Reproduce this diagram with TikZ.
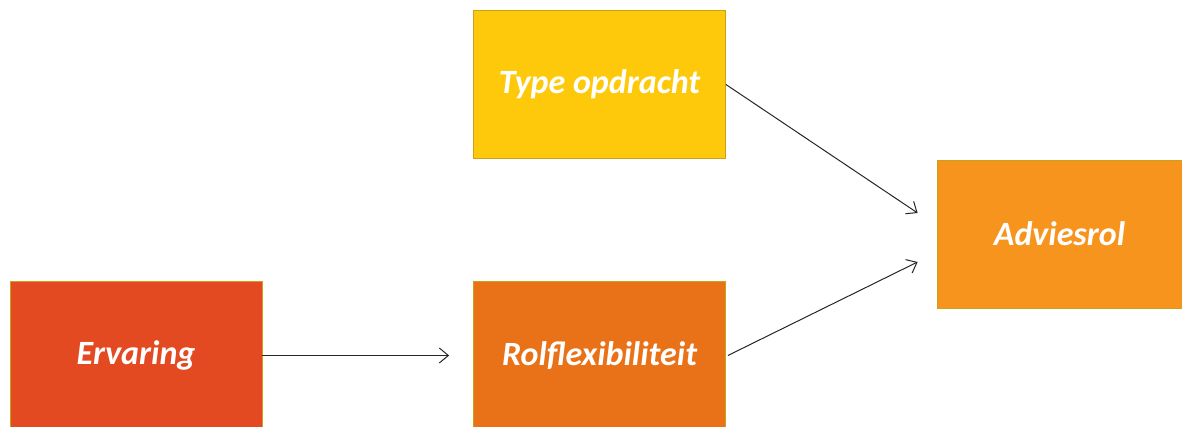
\documentclass[tikz,border=0pt]{standalone}
\usepackage{fontspec}
\setmainfont{Carlito}
\usepackage{xcolor}
\usepackage{tikz}
\usetikzlibrary{arrows.meta,positioning}

\definecolor{typecol}{HTML}{FEC90A}
\definecolor{adviescol}{HTML}{F7941E}
\definecolor{ervcol}{HTML}{E44A22}
\definecolor{rolcol}{HTML}{E97117}
\definecolor{edgecol}{HTML}{C9A21A}

\begin{document}
\begin{tikzpicture}[
        x=1pt, y=1pt,
        box/.style={rectangle, draw=edgecol, line width=0.8pt, minimum width=252pt, minimum height=148pt, align=center,
            text=white, font=\fontsize{34}{40}\selectfont\bfseries\itshape},
        arrow/.style={-{Straight Barb[length=9pt, width=15pt]}, line width=1pt, draw=black!85}
    ]

    % page frame
    \useasboundingbox (0,0) rectangle (1182,427);

    % Boxes
    \node[box, fill=typecol] (type_opdracht) at (599.5,342.5) {Type opdracht};
    \node[box, fill=adviescol, minimum width=245pt] (adviesrol) at (1059.5,193) {Adviesrol};
    \node[box, fill=ervcol] (ervaring) at (136,71.5) {Ervaring};
    \node[box, fill=rolcol] (rolflex) at (599.5,71.5) {Rolflexibiliteit};

    % Arrows
    % Ervaring to Rolflexibiliteit
    \draw[arrow] (ervaring.east) -- ([xshift=-24pt]rolflex.west);

    % Type opdracht to Adviesrol
    \draw[arrow] (type_opdracht.east) -- ([xshift=-19pt, yshift=21pt]adviesrol.west);

    % Rolflexibiliteit to Adviesrol
    \draw[arrow] ([xshift=2pt]rolflex.east) -- ([xshift=-19pt, yshift=-28pt]adviesrol.west);

\end{tikzpicture}
\end{document}
